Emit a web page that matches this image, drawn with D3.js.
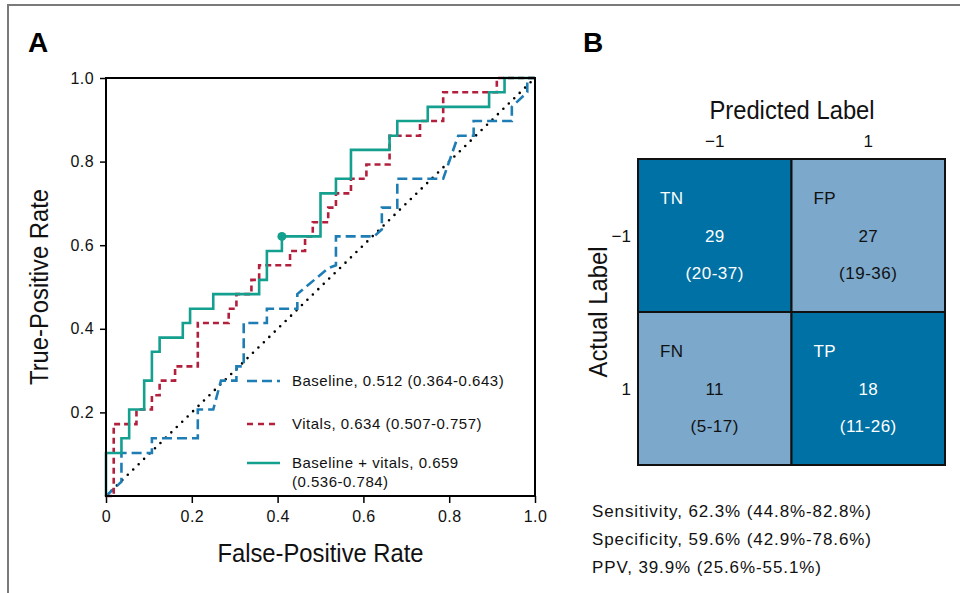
<!DOCTYPE html>
<html><head><meta charset="utf-8">
<script src="https://cdn.jsdelivr.net/npm/d3@7"></script>
<style>body{margin:0;background:#fff}svg{display:block}</style>
</head><body><svg id="c" width="960" height="593"></svg>
<script>
// ---------- data ----------
const xTicks = [0, 0.2, 0.4, 0.6, 0.8, 1.0];
const xTickLabels = ["0", "0.2", "0.4", "0.6", "0.8", "1.0"];
const yTicks = [0.2, 0.4, 0.6, 0.8, 1.0];
const yTickLabels = ["0.2", "0.4", "0.6", "0.8", "1.0"];

const baselineFpr = [0,0.036,0.036,0.107,0.107,0.214,0.214,0.25,0.268,0.304,0.304,0.321,0.321,0.375,0.375,0.446,0.446,0.518,0.536,0.536,0.625,0.643,0.643,0.679,0.679,0.786,0.821,0.857,0.857,0.946,0.946,0.982,0.982,1];
const baselineTpr = [0,0.034,0.103,0.103,0.138,0.138,0.207,0.207,0.276,0.276,0.310,0.310,0.414,0.414,0.448,0.448,0.483,0.545,0.552,0.621,0.621,0.638,0.690,0.690,0.759,0.759,0.862,0.862,0.897,0.897,0.931,0.966,1,1];

const vitalsFpr = [0,0.018,0.018,0.071,0.071,0.107,0.107,0.125,0.125,0.161,0.161,0.214,0.214,0.286,0.286,0.304,0.304,0.339,0.339,0.357,0.357,0.429,0.429,0.464,0.464,0.482,0.482,0.518,0.518,0.536,0.536,0.571,0.571,0.607,0.607,0.661,0.661,0.732,0.732,0.786,0.786,0.911,0.911,1];
const vitalsTpr = [0,0,0.172,0.172,0.207,0.207,0.241,0.241,0.276,0.276,0.310,0.310,0.414,0.414,0.448,0.448,0.483,0.483,0.517,0.517,0.552,0.552,0.586,0.586,0.621,0.621,0.655,0.655,0.690,0.690,0.724,0.724,0.759,0.759,0.793,0.793,0.862,0.862,0.897,0.897,0.966,0.966,1,1];

const combinedFpr = [0,0,0.036,0.036,0.054,0.054,0.089,0.089,0.107,0.107,0.125,0.125,0.179,0.179,0.196,0.196,0.25,0.25,0.357,0.357,0.375,0.375,0.41,0.41,0.5,0.5,0.536,0.536,0.571,0.571,0.661,0.661,0.679,0.679,0.75,0.75,0.893,0.893,0.929,0.929,1];
const combinedTpr = [0,0.103,0.103,0.138,0.138,0.207,0.207,0.276,0.276,0.345,0.345,0.379,0.379,0.414,0.414,0.448,0.448,0.483,0.483,0.517,0.517,0.586,0.586,0.621,0.621,0.724,0.724,0.759,0.759,0.828,0.828,0.862,0.862,0.897,0.897,0.931,0.931,0.966,0.966,1,1];

const operatingPoint = [0.41, 0.621];

const seriesNames = ["Baseline", "Vitals", "Baseline + vitals"];
const legendLines = [["Baseline, 0.512 (0.364-0.643)"], ["Vitals, 0.634 (0.507-0.757)"], ["Baseline + vitals, 0.659", "(0.536-0.784)"]];

const predictedLabels = ["\u22121", "1"];
const actualLabels = ["\u22121", "1"];
const cellCodes = [["TN", "FP"], ["FN", "TP"]];
const cellCounts = [[29, 27], [11, 18]];
const cellCIs = [["(20-37)", "(19-36)"], ["(5-17)", "(11-26)"]];

const statLines = ["Sensitivity, 62.3% (44.8%-82.8%)", "Specificity, 59.6% (42.9%-78.6%)", "PPV, 39.9% (25.6%-55.1%)"];

// ---------- drawing ----------
const svg = d3.select("#c");
const FONT = "'Liberation Sans', Arial, sans-serif";

// outer frame (top + left)
svg.append("path").attr("d", "M8,593 L8,5 L960,5").attr("fill", "none").attr("stroke", "#7a7a7a").attr("stroke-width", 2);

// panel letters
svg.append("text").attr("x", 28).attr("y", 52).text("A").attr("font-family", FONT).attr("font-weight", "bold").attr("font-size", 28);
svg.append("text").attr("x", 583).attr("y", 52).text("B").attr("font-family", FONT).attr("font-weight", "bold").attr("font-size", 28);

const x = d3.scaleLinear().domain([0, 1]).range([106, 535]);
const y = d3.scaleLinear().domain([0, 1]).range([496, 78]);

const g = svg.append("g");

// axes
const xAxis = d3.axisBottom(x).tickValues(xTicks).tickFormat((d, i) => xTickLabels[i]).tickSize(7).tickPadding(8);
const gx = g.append("g").attr("transform", `translate(0,${y(0)})`).call(xAxis);
const yAxis = d3.axisLeft(y).tickValues(yTicks).tickFormat((d, i) => yTickLabels[i]).tickSize(6).tickPadding(6);
const gy = g.append("g").attr("transform", `translate(${x(0)},0)`).call(yAxis);
[gx, gy].forEach(a => {
  a.select(".domain").remove();
  a.selectAll("line").attr("stroke", "#000").attr("stroke-width", 1.5);
  a.selectAll("text").attr("font-family", FONT).attr("font-size", 16).attr("letter-spacing", 0.4).attr("fill", "#111");
});

// diagonal reference
g.append("line").attr("x1", x(0)).attr("y1", y(0)).attr("x2", x(1)).attr("y2", y(1))
  .attr("stroke", "#000").attr("stroke-width", 2.6).attr("stroke-linecap", "round").attr("stroke-dasharray", "0,7.6");

const line = d3.line().x(d => x(d[0])).y(d => y(d[1]));
const styles = [
  {color: "#1f7db5", dash: "10,5", width: 2.6},
  {color: "#b2203d", dash: "6,4", width: 2.6},
  {color: "#14a08f", dash: null, width: 2.6}
];
const seriesData = [
  d3.zip(baselineFpr, baselineTpr),
  d3.zip(vitalsFpr, vitalsTpr),
  d3.zip(combinedFpr, combinedTpr)
];
seriesData.forEach((pts, i) => {
  const p = g.append("path").datum(pts).attr("d", line).attr("fill", "none")
    .attr("stroke", styles[i].color).attr("stroke-width", styles[i].width);
  if (styles[i].dash) p.attr("stroke-dasharray", styles[i].dash);
});
g.append("circle").attr("cx", x(operatingPoint[0])).attr("cy", y(operatingPoint[1])).attr("r", 4.5).attr("fill", styles[2].color);

// plot frame
g.append("rect").attr("x", x(0)).attr("y", y(1)).attr("width", x(1) - x(0)).attr("height", y(0) - y(1))
  .attr("fill", "none").attr("stroke", "#000").attr("stroke-width", 2);

// legend
const legY = [381, 424, 463];
seriesNames.forEach((n, i) => {
  const ly = legY[i];
  const l = g.append("line").attr("x1", 247).attr("x2", 280).attr("y1", ly).attr("y2", ly)
    .attr("stroke", styles[i].color).attr("stroke-width", styles[i].width);
  if (styles[i].dash) l.attr("stroke-dasharray", i === 0 ? "10,5" : "6,5");
  legendLines[i].forEach((t, j) => {
    g.append("text").attr("x", 292).attr("y", ly + 5 + j * 19).text(t)
      .attr("font-family", FONT).attr("font-size", 15).attr("letter-spacing", 0.5).attr("fill", "#111");
  });
});

// axis titles (condensed look)
g.append("text").attr("transform", `translate(${x(0.5)},562) scale(0.915,1)`).attr("text-anchor", "middle").text("False-Positive Rate")
  .attr("font-family", FONT).attr("font-size", 26).attr("fill", "#111");
g.append("text").attr("transform", `translate(48,${y(0.5)}) rotate(-90) scale(0.915,1)`).attr("text-anchor", "middle").text("True-Positive Rate")
  .attr("font-family", FONT).attr("font-size", 26).attr("fill", "#111");

// ---------- confusion matrix ----------
const cx = d3.scaleBand().domain([0, 1]).range([638, 945]);
const cy = d3.scaleBand().domain([0, 1]).range([159, 465]);
const dark = "#0071a4", light = "#7ba8cb";
const cm = svg.append("g");
for (let r = 0; r < 2; r++) {
  for (let c = 0; c < 2; c++) {
    const isDark = r === c;
    const x0 = cx(c), y0 = cy(r), w = cx.bandwidth(), h = cy.bandwidth();
    cm.append("rect").attr("x", x0).attr("y", y0).attr("width", w).attr("height", h)
      .attr("fill", isDark ? dark : light).attr("stroke", "#111").attr("stroke-width", 2);
    const col = isDark ? "#fff" : "#111";
    cm.append("text").attr("x", x0 + 22).attr("y", y0 + 45).text(cellCodes[r][c])
      .attr("font-family", FONT).attr("font-size", 17).attr("letter-spacing", 0.4).attr("fill", col);
    cm.append("text").attr("x", x0 + w / 2).attr("y", y0 + 83).attr("text-anchor", "middle").text(cellCounts[r][c])
      .attr("font-family", FONT).attr("font-size", 17).attr("letter-spacing", 0.4).attr("fill", col);
    cm.append("text").attr("x", x0 + w / 2).attr("y", y0 + 120).attr("text-anchor", "middle").text(cellCIs[r][c])
      .attr("font-family", FONT).attr("font-size", 17).attr("letter-spacing", 0.5).attr("fill", col);
  }
}
predictedLabels.forEach((t, i) => {
  cm.append("text").attr("x", cx(i) + cx.bandwidth() / 2).attr("y", 147).attr("text-anchor", "middle").text(t)
    .attr("font-family", FONT).attr("font-size", 17).attr("fill", "#111");
});
actualLabels.forEach((t, i) => {
  cm.append("text").attr("x", 631).attr("y", cy(i) + 83).attr("text-anchor", "end").text(t)
    .attr("font-family", FONT).attr("font-size", 17).attr("fill", "#111");
});
cm.append("text").attr("transform", `translate(792,119) scale(0.915,1)`).attr("text-anchor", "middle").text("Predicted Label")
  .attr("font-family", FONT).attr("font-size", 26).attr("fill", "#111");
cm.append("text").attr("transform", `translate(607,312) rotate(-90) scale(0.915,1)`).attr("text-anchor", "middle").text("Actual Label")
  .attr("font-family", FONT).attr("font-size", 26).attr("fill", "#111");

statLines.forEach((t, i) => {
  cm.append("text").attr("x", 592).attr("y", 517 + i * 28).text(t)
    .attr("font-family", FONT).attr("font-size", 17).attr("letter-spacing", 0.9).attr("fill", "#111");
});
</script></body></html>
